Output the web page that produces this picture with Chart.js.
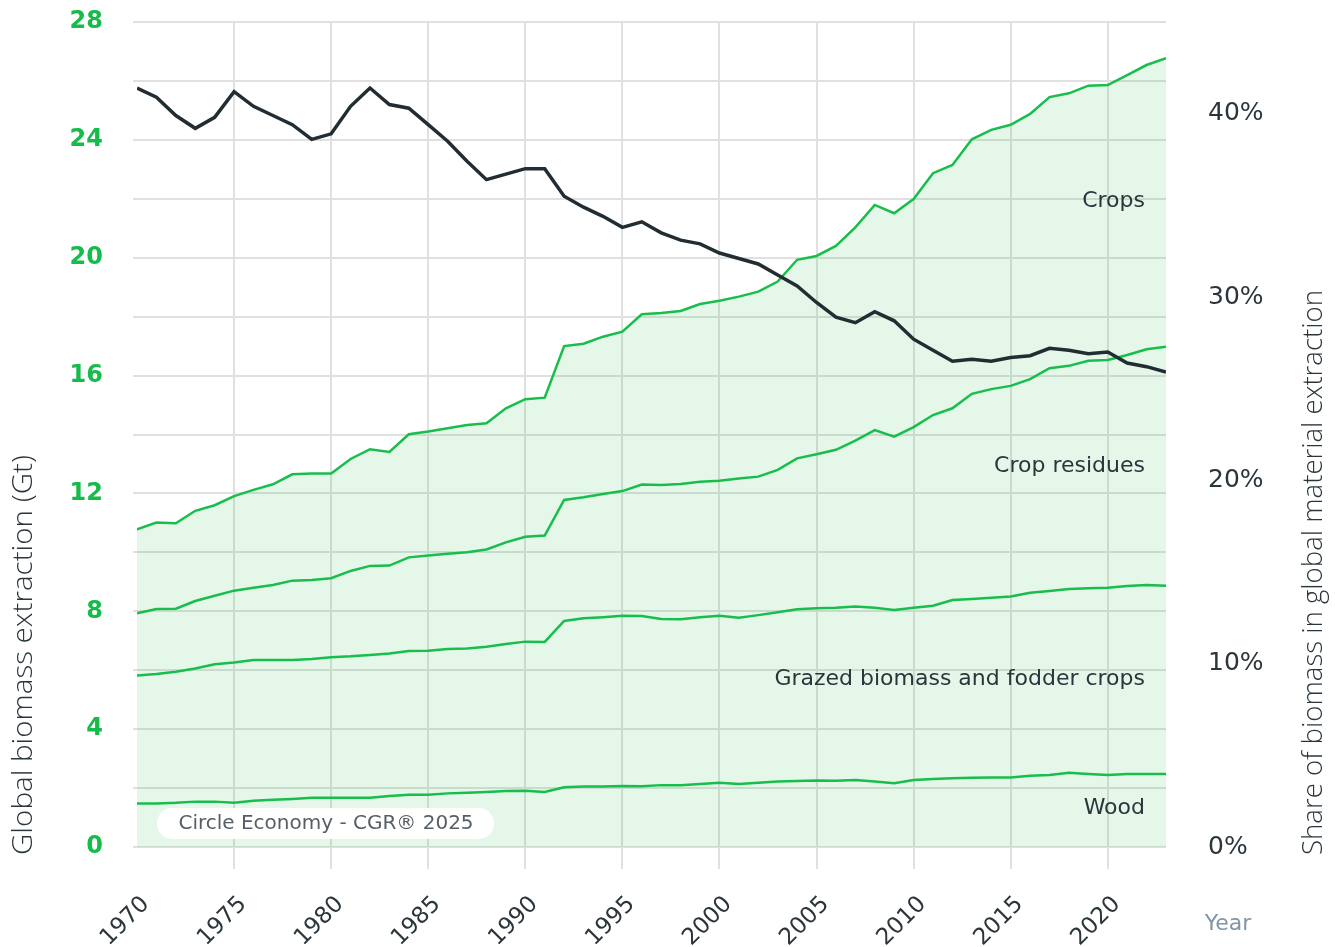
<!DOCTYPE html>
<html>
<head>
<meta charset="utf-8">
<script src="https://cdn.jsdelivr.net/npm/chart.js@4.4.1/dist/chart.umd.min.js"></script>
<style>
  body { margin: 0; background: #fff; }
  .container { width: 1335px; height: 947px; position: relative; }
</style>
</head>
<body>
<div class="container"><canvas id="chart"></canvas></div>
<script>
const years = [1970, 1971, 1972, 1973, 1974, 1975, 1976, 1977, 1978, 1979,
  1980, 1981, 1982, 1983, 1984, 1985, 1986, 1987, 1988, 1989,
  1990, 1991, 1992, 1993, 1994, 1995, 1996, 1997, 1998, 1999,
  2000, 2001, 2002, 2003, 2004, 2005, 2006, 2007, 2008, 2009,
  2010, 2011, 2012, 2013, 2014, 2015, 2016, 2017, 2018, 2019,
  2020, 2021, 2022, 2023];
const tickYears = [1970, 1975, 1980, 1985, 1990, 1995, 2000, 2005, 2010, 2015, 2020];

// stacked totals (Gt)
const cropsTotal = [10.78, 11.01, 10.99, 11.41, 11.6, 11.91, 12.12, 12.31, 12.65, 12.68,
  12.68, 13.17, 13.5, 13.41, 14.01, 14.1, 14.21, 14.32, 14.38, 14.89,
  15.2, 15.25, 17.0, 17.08, 17.32, 17.49, 18.08, 18.12, 18.19, 18.43,
  18.54, 18.68, 18.85, 19.19, 19.93, 20.06, 20.4, 21.03, 21.79, 21.51,
  21.99, 22.87, 23.15, 24.02, 24.34, 24.51, 24.88, 25.45, 25.58, 25.84,
  25.86, 26.2, 26.54, 26.77];
const residuesTotal = [7.93, 8.08, 8.09, 8.35, 8.53, 8.7, 8.8, 8.89, 9.04, 9.06,
  9.12, 9.37, 9.54, 9.55, 9.83, 9.89, 9.95, 10.0, 10.1, 10.34,
  10.53, 10.57, 11.78, 11.87, 11.98, 12.08, 12.3, 12.29, 12.32, 12.4,
  12.43, 12.51, 12.57, 12.8, 13.19, 13.33, 13.48, 13.79, 14.15, 13.93,
  14.25, 14.66, 14.89, 15.38, 15.54, 15.65, 15.88, 16.25, 16.33, 16.5,
  16.53, 16.7, 16.89, 16.98];
const grazedTotal = [5.82, 5.87, 5.95, 6.06, 6.2, 6.26, 6.35, 6.35, 6.35, 6.38,
  6.44, 6.47, 6.52, 6.57, 6.65, 6.66, 6.72, 6.74, 6.8, 6.89,
  6.97, 6.96, 7.67, 7.76, 7.8, 7.85, 7.84, 7.74, 7.73, 7.8,
  7.85, 7.78, 7.87, 7.97, 8.07, 8.1, 8.12, 8.16, 8.12, 8.04,
  8.12, 8.19, 8.38, 8.42, 8.46, 8.5, 8.63, 8.69, 8.76, 8.78,
  8.8, 8.86, 8.89, 8.87];
const woodTotal = [1.48, 1.48, 1.5, 1.54, 1.54, 1.5, 1.57, 1.6, 1.63, 1.67,
  1.67, 1.67, 1.67, 1.73, 1.77, 1.77, 1.82, 1.84, 1.87, 1.9,
  1.91, 1.87, 2.03, 2.05, 2.05, 2.07, 2.06, 2.1, 2.1, 2.14,
  2.18, 2.14, 2.18, 2.22, 2.24, 2.26, 2.25, 2.27, 2.22, 2.16,
  2.27, 2.31, 2.33, 2.35, 2.36, 2.36, 2.42, 2.44, 2.52, 2.48,
  2.44, 2.48, 2.48, 2.48];
// share of biomass in global material extraction (%)
const biomassShare = [41.4, 40.9, 39.9, 39.2, 39.8, 41.2, 40.4, 39.9, 39.4, 38.6,
  38.9, 40.4, 41.4, 40.5, 40.3, 39.4, 38.5, 37.4, 36.4, 36.7,
  37.0, 37.0, 35.5, 34.9, 34.4, 33.8, 34.1, 33.5, 33.1, 32.9,
  32.4, 32.1, 31.8, 31.2, 30.6, 29.7, 28.9, 28.6, 29.2, 28.7,
  27.7, 27.1, 26.5, 26.6, 26.5, 26.7, 26.8, 27.2, 27.1, 26.9,
  27.0, 26.4, 26.2, 25.9];

const seriesLabels = [
  { text: 'Crops', y: 21.9 },
  { text: 'Crop residues', y: 12.93 },
  { text: 'Grazed biomass and fodder crops', y: 5.7 },
  { text: 'Wood', y: 1.32 }
];

const GREEN = '#18be4b';
const DARK = '#2b363c';
const GRID = '#e0e0e0';
const FONT = '"DejaVu Sans"';

function pts(arr) {
  return years.map((yr, i) => ({ x: yr, y: arr[i] }));
}

// rotated title stretched to a given length
function vTitle(ctx, text, x, yBottom, len) {
  ctx.save();
  ctx.translate(x, yBottom);
  ctx.rotate(-Math.PI / 2);
  const w = ctx.measureText(text).width;
  ctx.scale(len / w, 1);
  ctx.fillText(text, 0, 0);
  ctx.restore();
}

const extras = {
  id: 'extras',
  afterDraw(chart) {
    const ctx = chart.ctx;
    const area = chart.chartArea;
    const ys = chart.scales.y;
    ctx.save();

    // series labels
    ctx.fillStyle = DARK;
    ctx.font = '22px ' + FONT;
    ctx.textAlign = 'right';
    ctx.textBaseline = 'middle';
    seriesLabels.forEach(l => {
      ctx.fillText(l.text, area.right - 21, ys.getPixelForValue(l.y));
    });

    // source badge
    ctx.fillStyle = '#ffffff';
    ctx.beginPath();
    ctx.roundRect(area.left + 20, area.bottom - 39, 337, 31, 15);
    ctx.fill();
    ctx.fillStyle = '#555f66';
    ctx.font = '20px ' + FONT;
    ctx.textAlign = 'center';
    ctx.fillText('Circle Economy - CGR\u00AE 2025', area.left + 189, area.bottom - 23);

    // axis titles
    ctx.fillStyle = DARK;
    ctx.font = '300 28px "Open Sans"';
    ctx.textAlign = 'left';
    ctx.textBaseline = 'alphabetic';
    vTitle(ctx, 'Global biomass extraction (Gt)', 32, 855, 400);
    vTitle(ctx, 'Share of biomass in global material extraction', 1322, 855, 565);

    ctx.fillStyle = '#8195a8';
    ctx.font = '22px ' + FONT;
    ctx.textAlign = 'center';
    ctx.textBaseline = 'middle';
    ctx.fillText('Year', 1228, 924);
    ctx.restore();
  }
};

const canvas = document.getElementById('chart');
new Chart(canvas, {
  type: 'line',
  data: {
    datasets: [{
      label: 'Share of biomass',
      data: pts(biomassShare),
      yAxisID: 'y1',
      borderColor: '#222d33',
      borderWidth: 3.5,
      fill: false
    }, {
      label: 'Wood',
      data: pts(woodTotal),
      borderColor: GREEN,
      borderWidth: 2.5,
      fill: false
    }, {
      label: 'Grazed biomass and fodder crops',
      data: pts(grazedTotal),
      borderColor: GREEN,
      borderWidth: 2.5,
      fill: false
    }, {
      label: 'Crop residues',
      data: pts(residuesTotal),
      borderColor: GREEN,
      borderWidth: 2.5,
      fill: false
    }, {
      label: 'Crops',
      data: pts(cropsTotal),
      borderColor: GREEN,
      borderWidth: 2.5,
      backgroundColor: 'rgba(30, 190, 75, 0.12)',
      fill: 'origin'
    }]
  },
  options: {
    responsive: true,
    maintainAspectRatio: false,
    animation: false,
    layout: { padding: { top: 22, right: 0, left: 0, bottom: 0 } },
    elements: { point: { radius: 0 }, line: { tension: 0 } },
    plugins: { legend: { display: false }, tooltip: { enabled: false } },
    scales: {
      x: {
        type: 'linear',
        min: 1970,
        max: 2023,
        afterBuildTicks: scale => { scale.ticks = tickYears.map(v => ({ value: v })); },
        afterFit: scale => { scale.height = 100; scale.paddingLeft = 0; scale.paddingRight = 0; },
        border: { display: false },
        grid: {
          color: c => (c.tick && c.tick.value === 1970) ? 'rgba(0,0,0,0)' : GRID,
          lineWidth: 2,
          tickLength: 22
        },
        ticks: {
          autoSkip: false,
          minRotation: 45,
          maxRotation: 45,
          padding: 22,
          labelOffset: 9,
          color: DARK,
          font: { family: 'DejaVu Sans', size: 23 },
          callback: v => String(v)
        }
      },
      y: {
        position: 'left',
        min: 0,
        max: 28,
        afterFit: scale => { scale.width = 137; scale.paddingTop = 0; scale.paddingBottom = 0; },
        border: { display: false },
        grid: { color: GRID, lineWidth: 2, tickLength: 4 },
        ticks: {
          stepSize: 2,
          padding: 30,
          color: '#17bb4a',
          font: { family: 'DejaVu Sans', size: 24, weight: 'bold' },
          callback: v => (v % 4 === 0 ? String(v) : '')
        }
      },
      y1: {
        position: 'right',
        min: 0,
        max: 45,
        afterFit: scale => { scale.width = 169; scale.paddingTop = 0; scale.paddingBottom = 0; },
        border: { display: false },
        grid: { display: false, drawOnChartArea: false },
        ticks: {
          stepSize: 10,
          padding: 34,
          color: DARK,
          font: { family: 'DejaVu Sans', size: 25 },
          callback: v => (v % 10 === 0 ? v + '%' : '')
        }
      }
    }
  },
  plugins: [extras]
});
</script>
</body>
</html>
